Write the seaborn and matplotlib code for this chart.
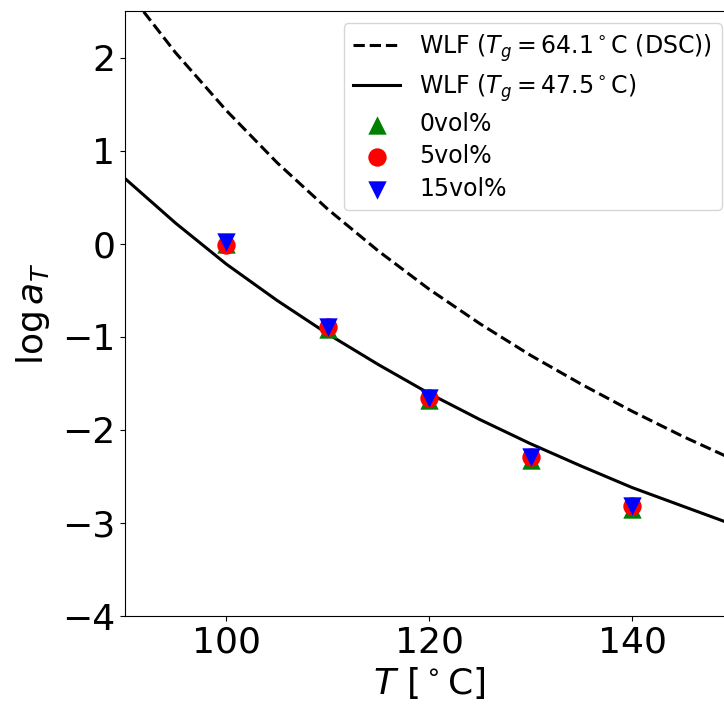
import numpy as np
import pandas as pd
import matplotlib
matplotlib.use("Agg")
import matplotlib.pyplot as plt
import seaborn as sns

# WLF curves
T_curve = [90, 95, 100, 105, 110, 115, 120, 125, 130, 135, 140, 145, 150]
wlf_dsc = [2.75, 2.05, 1.43, 0.87, 0.37, -0.08, -0.49, -0.86, -1.20, -1.51, -1.80, -2.07, -2.32]
wlf_fit = [0.70, 0.22, -0.22, -0.61, -0.97, -1.30, -1.61, -1.89, -2.15, -2.39, -2.62, -2.82, -3.02]

# measured shift factors
T_data = [100, 110, 120, 130, 140]
vol0 = [0.00, -0.92, -1.68, -2.32, -2.85]
vol5 = [-0.01, -0.90, -1.66, -2.29, -2.82]
vol15 = [0.02, -0.90, -1.66, -2.29, -2.82]

label_dsc = r'WLF ($T_g=64.1^\circ$C (DSC))'
label_fit = r'WLF ($T_g=47.5^\circ$C)'

curves = pd.DataFrame({"T": T_curve, "dsc": wlf_dsc, "fit": wlf_fit})
points = pd.DataFrame({"T": T_data, "v0": vol0, "v5": vol5, "v15": vol15})

fig = plt.figure(figsize=(7.24, 7.06), dpi=100)
ax = fig.add_axes([125/724, 90/706, (733.5-125)/724, (616-11)/706])

sns.lineplot(data=curves, x="T", y="dsc", ax=ax, color="black", linestyle="--",
             linewidth=2.2, label=label_dsc)
sns.lineplot(data=curves, x="T", y="fit", ax=ax, color="black", linestyle="-",
             linewidth=2.2, label=label_fit)
sns.scatterplot(data=points, x="T", y="v0", ax=ax, color="green", marker="^",
                s=175, linewidth=0, label="0vol%", zorder=3)
sns.scatterplot(data=points, x="T", y="v5", ax=ax, color="red", marker="o",
                s=175, linewidth=0, label="5vol%", zorder=3)
sns.scatterplot(data=points, x="T", y="v15", ax=ax, color="blue", marker="v",
                s=175, linewidth=0, label="15vol%", zorder=3)

ax.set_xlim(90, 150)
ax.set_ylim(-4, 2.5)
ax.set_xticks([100, 120, 140])
ax.set_yticks([-4, -3, -2, -1, 0, 1, 2])
ax.tick_params(labelsize=26)
ax.set_xlabel(r'$T$ [$^\circ$C]', fontsize=26)
ax.set_ylabel(r'$\log a_T$', fontsize=26, labelpad=7)
ax.legend(loc="upper right", fontsize=17, labelspacing=0.35)

fig.savefig("out.png", dpi=100)
